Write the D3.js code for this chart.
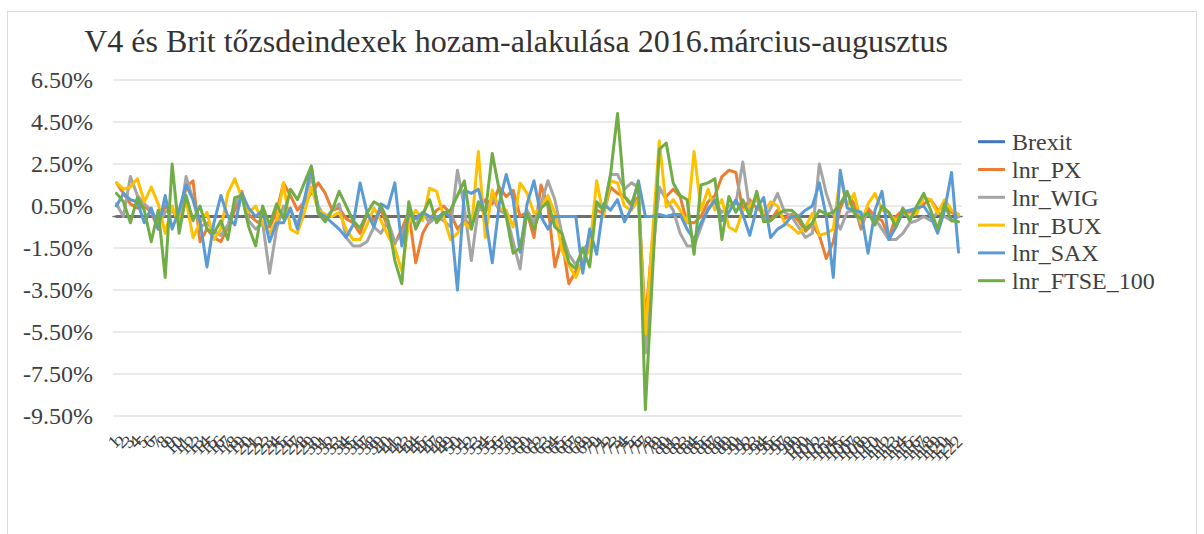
<!DOCTYPE html>
<html lang="hu">
<head>
<meta charset="UTF-8">
<title>V4 és Brit tőzsdeindexek hozam-alakulása</title>
<script src="https://cdn.jsdelivr.net/npm/d3@7"></script>
<style>
  body { margin: 0; background: #fff; }
  svg { display: block; }
  text { font-family: "Liberation Serif", "Times New Roman", serif; }
</style>
</head>
<body>
<div id="chart"></div>
<script>
const width = 1204, height = 534;

// trading days, numbered as in the original sheet
const days = d3.range(1, 123).map(String);
const yTicks = [-9.5, -7.5, -5.5, -3.5, -1.5, 0.5, 2.5, 4.5, 6.5];
const seriesNames = ["Brexit", "lnr_PX", "lnr_WIG", "lnr_BUX", "lnr_SAX", "lnr_FTSE_100"];
const colors = ["#4472C4", "#ED7D31", "#A5A5A5", "#FFC000", "#5B9BD5", "#70AD47"];

// daily log returns in %
const brexit = [0,0,0,0,0,0,0,0,0,0, 0,0,0,0,0,0,0,0,0,0, 0,0,0,0,0,0,0,0,0,0,
  0,0,0,0,0,0,0,0,0,0, 0,0,0,0,0,0,0,0,0,0, 0,0,0,0,0,0,0,0,0,0,
  0,0,0,0,0,0,0,0,0,0, 0,0,0,0,0,0,0,0,0,0, 0,0,0,0,0,0,0,0,0,0,
  0,0,0,0,0,0,0,0,0,0, 0,0,0,0,0,0,0,0,0,0, 0,0,0,0,0,0,0,0,0,0, 0,0];
const px = [1.6, 1.1, 0.6, 0.4, 0.5, 0.2, -0.6, 0.5, 0.3, -0.2,
  1.4, 1.7, -1.2, -0.6, -1.0, -1.2, -0.5, 0.3, 1.2, 0.1,
  -0.2, -0.4, -0.5, 0.2, 1.6, 1.0, 0.3, 0.7, 1.1, 1.6,
  1.1, 0.3, 0.4, -0.1, -0.3, -0.8, 0.1, -0.2, 0.3, -0.5,
  -1.3, -0.6, 0.2, -2.2, -0.8, -0.2, 0.3, 0.5, 0.15, -0.6,
  -0.2, -0.4, 0.3, 0.8, 0.6, 1.4, 0.95, 1.25, 0.0, 0.2,
  -1.0, 1.5, 0.5, -2.4, -1.1, -3.2, -2.6, -2.2, -1.1, 0.3,
  0.15, 1.4, 1.1, 0.95, 0.5, 0.95, -5.0, -1.2, 1.3, 0.95,
  1.3, 0.95, -0.3, -0.3, 0.0, 0.7, 1.0, 1.9, 2.2, 2.1,
  0.3, 0.8, 0.4, 0.2, -0.2, 0.3, -0.1, 0.1, -0.2, -0.7,
  -0.4, -0.9, -2.0, -1.2, 0.4, 1.1, 0.6, -0.6, 0.4, 0.0,
  -0.2, -1.0, 0.0, 0.3, 0.2, 0.3, 0.6, 0.8, 0.3, 0.5, 0.2, 0.0];
const wig = [0.6, 0.0, 1.9, 1.0, 0.6, 0.3, -0.4, 0.2, 0.4, -0.3,
  1.9, 0.8, -0.5, -0.3, -0.7, -0.9, -0.4, 0.6, 1.1, -0.2,
  -0.6, -0.3, -2.7, -0.6, 0.5, 0.3, -0.4, 0.8, 1.9, 0.5,
  -0.1, 0.3, 0.6, -1.0, -1.4, -1.4, -1.2, -0.5, -0.8, -0.2,
  -1.2, -0.9, 0.0, -0.4, 0.2, -0.3, 0.0, -0.2, -0.5, 2.2,
  0.4, -2.1, 0.4, 0.2, 0.9, 0.3, 0.1, -1.2, -2.5, 0.3,
  -0.3, 0.6, 1.7, 0.8, -0.8, -1.8, -2.3, -1.6, -1.2, 0.6,
  0.3, 2.0, 2.0, 1.3, 1.6, 1.4, -6.5, -2.0, 1.4, 0.8,
  0.3, -0.8, -1.4, -1.4, -0.5, 0.4, 0.7, 0.2, 0.5, 0.6,
  2.6, 0.3, 0.9, -0.2, 0.4, 1.1, 0.2, 0.0, -0.5, -1.0,
  -0.8, 2.5, 1.1, 0.1, -0.6, 0.2, 0.3, -0.4, 0.2, -0.1,
  -0.6, -1.1, -1.1, -0.8, -0.3, -0.2, 0.0, -0.2, 0.2, 0.0, -0.2, 0.0];
const bux = [1.6, 1.3, 1.4, 1.8, 0.7, 1.4, 0.6, -0.8, 0.5, -0.4,
  0.8, -1.0, -0.3, 0.2, -1.1, -0.6, 1.1, 1.8, 0.9, 0.2,
  0.5, -0.3, -0.8, -0.2, 1.6, -0.6, -0.8, 0.2, 1.4, 0.3,
  0.1, 0.0, 0.2, -0.6, -1.1, -1.1, -0.4, 0.4, -0.2, -0.9,
  -1.5, -2.6, -0.3, 0.3, -0.2, 1.35, 1.2, 0.0, -1.1, -0.8,
  -0.3, -0.6, 3.1, -1.0, 1.25, 0.4, 0.3, -0.5, 1.6, 1.1,
  0.15, 0.4, 1.0, 0.15, -1.6, -2.3, -2.9, -2.1, -1.6, 1.7,
  0.0, 1.7, 1.6, 0.5, 0.3, 0.8, -5.6, -1.0, 3.6, 0.45,
  0.8, 0.3, -0.3, 3.1, 0.3, 1.3, 0.3, 0.8, -0.5, -0.7,
  0.3, 0.5, 0.95, 0.15, 0.7, 0.5, -0.3, -0.5, -0.8, -0.5,
  0.15, -0.9, -0.8, -0.6, 1.9, 0.5, 1.1, -0.3, 0.6, 1.1,
  0.3, 0.15, -0.2, 0.15, 0.0, 0.15, 0.9, 0.8, 0.15, 0.8, 0.3, 0.1];
const sax = [0.5, 1.1, 0.8, 0.7, -0.3, 0.4, -0.6, 1.0, -0.6, 0.3,
  1.5, 0.8, -0.2, -2.4, -0.3, 1.0, 0.0, -0.4, 1.1, 0.4,
  0.0, 0.3, -1.2, -0.3, -0.3, 0.4, -0.6, 0.8, 2.4, 0.2,
  0.0, -0.3, -0.6, -1.0, -0.4, 1.6, 0.2, -0.5, 0.6, 0.4,
  1.6, -1.4, 0.1, -0.1, 0.2, 0.0, -0.1, 0.2, 0.0, -3.5,
  1.25, 1.1, 1.3, 0.0, -2.2, 0.6, 2.0, 0.8, -1.7, 0.6,
  1.7, 0.0, -0.6, 0.0, 0.0, 0.0, 0.0, -2.7, -0.6, -1.8,
  0.6, 0.3, 0.8, -0.25, 0.4, 1.7, 0.0, 0.0, 0.1, 0.0,
  0.1, 0.1, -0.6, -1.1, -0.3, 0.3, 0.8, -0.2, 0.2, 0.8,
  0.1, -0.9, 0.4, 0.9, -1.0, -0.6, -0.4, 0.0, 0.0, 0.3,
  0.5, 1.6, 0.0, -2.9, 2.2, 0.4, 0.3, 0.2, -1.75, 0.3,
  1.2, -1.1, -0.5, 0.2, 0.3, 0.4, 0.5, 0.0, -0.8, 0.3, 2.1, -1.7];
const ftse = [1.1, 0.7, -0.3, 0.9, 0.3, -1.2, 0.3, -2.9, 2.5, -0.8,
  1.0, -0.2, 0.5, -0.6, -0.8, -0.2, -1.1, 0.9, 1.0, -0.5,
  -1.4, 0.5, -0.4, 0.6, -0.1, 1.3, 0.8, 1.6, 2.4, 0.15,
  -0.25, 0.3, 1.2, 0.5, -0.2, -0.55, 0.15, 0.7, 0.5, -0.2,
  -2.1, -3.2, 0.7, -0.6, 0.1, 0.8, -0.3, 0.15, 0.3, 1.0,
  1.7, -0.6, 0.7, 0.15, 3.0, 1.25, 0.0, -1.75, -1.5, 0.15,
  -0.6, 0.4, 0.7, -0.5, -0.8, -2.2, -2.5, -1.5, -2.4, 0.7,
  0.3, 2.0, 4.9, 0.95, 0.6, 1.6, -9.2, -2.9, 3.2, 3.5,
  1.6, 1.0, 0.8, -1.8, 1.5, 1.6, 1.8, -1.1, 0.95, 0.2,
  0.8, 0.0, 1.2, -0.25, -0.2, 0.1, 0.3, 0.3, 0.0, -0.6,
  -0.3, 0.3, 0.1, 0.2, 0.6, 1.2, 0.15, -0.1, 0.2, -0.4,
  0.5, 0.2, -0.5, 0.4, -0.2, 0.5, 1.1, 0.3, -0.6, 0.6, -0.2, -0.25];

const seriesValues = [brexit, px, wig, bux, sax, ftse];

const svg = d3.select("#chart").append("svg")
  .attr("width", width)
  .attr("height", height);

svg.append("rect")
  .attr("width", width).attr("height", height)
  .attr("fill", "#fff");

// chart area border
svg.append("rect")
  .attr("x", 7.5).attr("y", 11.5)
  .attr("width", 1189).attr("height", 540)
  .attr("fill", "none")
  .attr("stroke", "#D9D9D9");

const x = d3.scalePoint()
  .domain(days)
  .range([113, 962])
  .padding(0.5);

const y = d3.scaleLinear()
  .domain([-9.5, 6.5])
  .range([416, 80]);

// gridlines
svg.append("g")
  .selectAll("line")
  .data(yTicks)
  .join("line")
  .attr("x1", 113).attr("x2", 962)
  .attr("y1", d => y(d)).attr("y2", d => y(d))
  .attr("stroke", "#E3E3E3")
  .attr("stroke-width", 1.5);

// y labels
svg.append("g")
  .selectAll("text")
  .data(yTicks)
  .join("text")
  .attr("x", 93)
  .attr("y", d => y(d))
  .attr("dy", "0.35em")
  .attr("text-anchor", "end")
  .attr("font-size", 24)
  .attr("fill", "#404040")
  .text(d => d.toFixed(2) + "%");

// category labels
svg.append("g")
  .selectAll("text")
  .data(days)
  .join("text")
  .attr("transform", d => `translate(${x(d) + 5},${443}) rotate(-45)`)
  .attr("text-anchor", "end")
  .attr("font-size", 18)
  .attr("fill", "#404040")
  .text(d => d);

const line = d3.line()
  .x((d, i) => x(days[i]))
  .y(d => y(d))
  .curve(d3.curveLinear);

const lines = svg.append("g")
  .attr("fill", "none")
  .attr("stroke-linejoin", "round")
  .attr("stroke-linecap", "round");

seriesValues.forEach((vals, k) => {
  lines.append("path")
    .attr("d", line(vals))
    .attr("stroke", colors[k])
    .attr("stroke-width", 3);
  if (k === 0) {
    // horizontal axis line crossing at zero
    lines.append("line")
      .attr("x1", 113).attr("x2", 962)
      .attr("y1", y(0)).attr("y2", y(0))
      .attr("stroke", "#6E6E6E")
      .attr("stroke-width", 1.5);
  }
});

// title
svg.append("text")
  .attr("x", 516)
  .attr("y", 52)
  .attr("text-anchor", "middle")
  .attr("font-size", 32)
  .attr("fill", "#333333")
  .text("V4 és Brit tőzsdeindexek hozam-alakulása 2016.március-augusztus");

// legend
const legend = svg.append("g")
  .selectAll("g")
  .data(seriesNames)
  .join("g")
  .attr("transform", (d, i) => `translate(978,${141.7 + i * 27.8})`);

legend.append("line")
  .attr("x1", 0).attr("x2", 27)
  .attr("stroke", (d, i) => colors[i])
  .attr("stroke-width", 3);

legend.append("text")
  .attr("x", 34)
  .attr("dy", "0.35em")
  .attr("font-size", 24)
  .attr("fill", "#404040")
  .text(d => d);
</script>
</body>
</html>
